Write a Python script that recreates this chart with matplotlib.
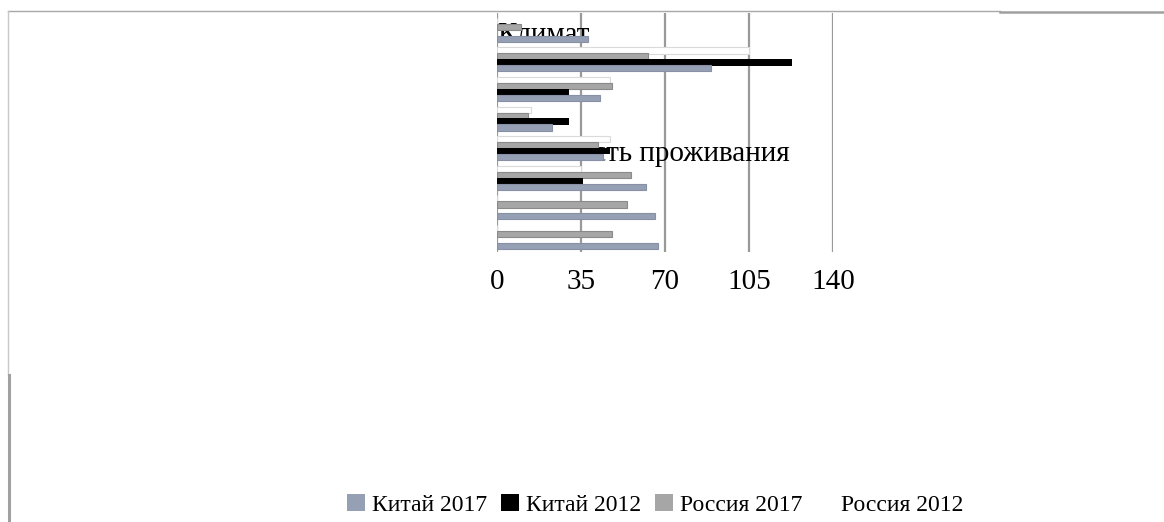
import numpy as np
import matplotlib.pyplot as plt
from matplotlib.lines import Line2D
from matplotlib.patches import Rectangle

plt.rcParams['font.family'] = ['Liberation Serif', 'DejaVu Serif']

# Категории (сверху вниз); подписи большей части строк скрыты за столбцами
categories = ["Климат", "", "", "", "Стоимость проживания", "", "", ""]
ticks = [0, 35, 70, 105, 140]

russia_2012 = [0, 105, 47, 14, 47, 35, 0, 0]
russia_2017 = [10, 63, 48, 13, 42, 56, 54, 48]
china_2012 = [0, 123, 30, 30, 47, 36, 0, 0]
china_2017 = [38, 89, 43, 23, 44, 62, 66, 67]

series = [
    ("Россия 2012", russia_2012, "white", "#dadada", -0.3),
    ("Россия 2017", russia_2017, "#a6a6a6", "#8a8a8a", -0.1),
    ("Китай 2012", china_2012, "black", "none", 0.1),
    ("Китай 2017", china_2017, "#96a0b4", "#8790a4", 0.3),
]

fig = plt.figure(figsize=(11.64, 5.22), dpi=100)
ax = fig.add_axes([0.427, 0.5172, 0.2887, 0.4579])

pos = np.arange(len(categories))
for name, vals, col, edge, off in series:
    ax.barh(pos + off, vals, height=0.21, color=col, edgecolor=edge,
            linewidth=0.8, zorder=3)

# подписи категорий лежат внутри области построения, под столбцами
for p, lab in zip(pos, categories):
    if lab:
        ax.text(0.2, p + 0.42, lab, fontsize=21, ha='left', va='baseline',
                zorder=2)

ax.set_xlim(0, 140)
ax.set_ylim(7.51, -0.57)
ax.set_xticks(ticks)
ax.set_xticklabels([str(t) for t in ticks], fontsize=21)
ax.set_yticks([])
ax.tick_params(axis='x', length=0, pad=12)
ax.grid(axis='x', color='#999999', linewidth=1.6)
ax.set_axisbelow(True)
for s in ax.spines.values():
    s.set_visible(False)

# рамка области диаграммы
fig.add_artist(Line2D([0.0069, 0.859], [0.978, 0.978], color='#a8a8a8', lw=1.0))
fig.add_artist(Line2D([0.859, 1.0], [0.977, 0.977], color='#a0a0a0', lw=1.8))
fig.add_artist(Line2D([0.0072, 0.0072], [0.978, 0.2816], color='#c8c8c8', lw=1.0))
fig.add_artist(Line2D([0.0081, 0.0081], [0.2816, 0.0], color='#a0a0a0', lw=2.2))

handles = [Rectangle((0, 0), 1, 1, facecolor=c) for _, _, c, _, _ in series[::-1]]
labels = [n for n, _, _, _, _ in series[::-1]]
fig.legend(handles, labels, loc='center', bbox_to_anchor=(0.563, 0.033),
           ncol=4, frameon=False, fontsize=17, handlelength=0.75,
           handleheight=0.75, handletextpad=0.3, columnspacing=0.6)

fig.savefig("out.png", dpi=100)
